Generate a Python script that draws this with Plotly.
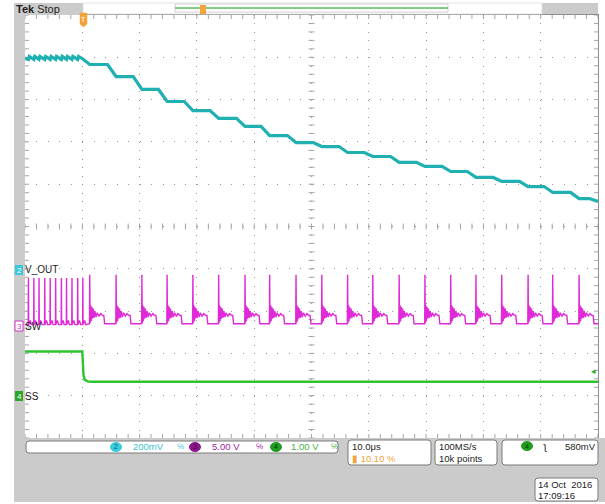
import plotly.graph_objects as go

# ---------------- data ----------------
T_RANGE = [-10.1, 89.9]          # us, 10 us/div, trigger at 10.10 %
CH2_SCALE, CH2_POS = 0.2, -1.0   # V/div, position (div)  V_OUT
CH3_SCALE, CH3_POS = 5.0, -2.34  # SW
CH4_SCALE, CH4_POS = 1.0, -4.0   # SS
TRIG_LEVEL = 0.58                # V on ch4

vout_t = [-10.1, -9.5, -9.35, -8.55, -8.4, -7.65, -7.5, -6.65, -6.5, -5.7, -5.55,
          -4.75, -4.6, -3.75, -3.6, -2.85, -2.7, -1.9, -1.75, -0.9, -0.75, 0.0,
          1.2, 4.3, 5.8, 8.8, 10.3, 13.2, 14.7, 17.7, 19.2, 22.2, 23.7,
          26.8, 28.3, 31.1, 32.6, 35.7, 37.2, 40.2, 41.7, 44.7, 46.2, 49.1, 50.6,
          53.7, 55.2, 58.2, 59.7, 62.7, 64.2, 67.1, 68.6, 71.6, 73.1, 76.2, 77.7,
          80.5, 82.0, 85.1, 86.6, 88.4, 89.9]
vout_v = [0.995, 0.990, 1.004, 0.990, 1.004, 0.990, 1.004, 0.990, 1.004, 0.990, 1.004,
          0.990, 1.004, 0.990, 1.004, 0.990, 1.004, 0.990, 1.004, 0.990, 1.004, 0.992,
          0.966, 0.966, 0.909, 0.909, 0.848, 0.848, 0.791, 0.791,
          0.748, 0.748, 0.711, 0.711, 0.673, 0.673, 0.630, 0.630, 0.597, 0.597,
          0.578, 0.578, 0.550, 0.550, 0.531, 0.531, 0.503, 0.503, 0.484, 0.484,
          0.460, 0.460, 0.432, 0.432, 0.413, 0.413, 0.389, 0.389, 0.361, 0.361,
          0.332, 0.332, 0.318]

sw_fast_t = [-9.5, -8.55, -7.65, -6.65, -5.7, -4.75, -3.75, -2.85, -1.9, -0.9, 0.0]
sw_fast_dt = [-0.04, 0.0, 0.04, 0.3, 0.5]
sw_fast_v = [0.1, 5.6, 0.1, 0.6, 0.1]

sw_pulse_t = [1.2, 5.8, 10.3, 14.7, 19.2, 23.7, 28.3, 32.6, 37.2, 41.7, 46.2, 50.6,
              55.2, 59.7, 64.2, 68.6, 73.1, 77.7, 82.0, 86.6]
sw_pulse_dt = [-0.05, 0.0, 0.06, 0.15, 0.25, 0.35, 0.45, 0.6, 0.75, 0.9, 1.1, 1.3,
               1.6, 1.9, 2.2, 2.45, 2.6]
sw_pulse_v = [0.2, 6.0, 0.3, 2.4, 0.5, 2.2, 0.8, 2.0, 0.9, 1.7, 1.0, 1.5, 1.1, 1.4,
              1.2, 1.2, 0.2]

ss_t = [-10.1, -0.1, 0.0, 0.1, 0.3, 0.8, 1.5, 89.9]
ss_v = [1.045, 1.045, 0.80, 0.50, 0.38, 0.34, 0.33, 0.33]

# ---------------- assemble switching-node trace ----------------
sw_t, sw_v = [-10.1], [0.1]
for ts in sw_fast_t:
    for d, v in zip(sw_fast_dt, sw_fast_v):
        sw_t.append(ts + d); sw_v.append(v)
for ts in sw_pulse_t:
    for d, v in zip(sw_pulse_dt, sw_pulse_v):
        sw_t.append(ts + d); sw_v.append(v)
sw_t.append(89.9); sw_v.append(0.2)

# ---------------- geometry helpers ----------------
W, H = 605, 504
L, R, T, B = 25, 598, 15, 438
FONT = "Liberation Sans"


def P(x):
    return (x - L) / (R - L)


def Q(y):
    return (B - y) / (B - T)


shapes, annos = [], []


def rect(x0, y0, x1, y1, fill, line=None, lw=1.0, layer="above"):
    shapes.append(dict(type="rect", xref="paper", yref="paper",
                       x0=P(x0), x1=P(x1), y0=Q(y1), y1=Q(y0),
                       fillcolor=fill, layer=layer,
                       line=dict(color=line or "rgba(0,0,0,0)", width=lw if line else 0)))


def rrect(x0, y0, x1, y1, r, fill="white", line="#7a7a7a", lw=1.0):
    pts = (f"M{P(x0+r)},{Q(y0)} L{P(x1-r)},{Q(y0)} Q{P(x1)},{Q(y0)} {P(x1)},{Q(y0+r)} "
           f"L{P(x1)},{Q(y1-r)} Q{P(x1)},{Q(y1)} {P(x1-r)},{Q(y1)} "
           f"L{P(x0+r)},{Q(y1)} Q{P(x0)},{Q(y1)} {P(x0)},{Q(y1-r)} "
           f"L{P(x0)},{Q(y0+r)} Q{P(x0)},{Q(y0)} {P(x0+r)},{Q(y0)} Z")
    shapes.append(dict(type="path", xref="paper", yref="paper", path=pts,
                       fillcolor=fill, line=dict(color=line, width=lw), layer="above"))


def circ(cx, cy, rx, ry, fill):
    shapes.append(dict(type="circle", xref="paper", yref="paper",
                       x0=P(cx - rx), x1=P(cx + rx), y0=Q(cy + ry), y1=Q(cy - ry),
                       fillcolor=fill, line=dict(color=fill, width=1), layer="above"))


def txt(x, y, s, color="#222222", size=10, anchor="left"):
    annos.append(dict(x=P(x), y=Q(y), xref="paper", yref="paper", text=s,
                      showarrow=False, xanchor=anchor, yanchor="middle", borderpad=0,
                      font=dict(family=FONT, size=size, color=color)))


GRAY = "#cbcbcb"
# frame background pieces
rect(14, 3, 83, 15, GRAY)          # Tek Stop box
rect(14, 15, 25, 438, GRAY)        # left strip
rect(542, 3, 598, 14, GRAY)        # top right
rect(14, 438, 605, 502, GRAY)      # bottom panel
rect(83, 3, 542, 14, "white", line="#dcdcdc", lw=0.8)

txt(15, 9, "<b>Tek</b> Stop", "#222222", 11)

# record view
rect(175, 4, 448, 12, "rgba(0,0,0,0)", line="#c4c4c4", lw=0.8)
shapes.append(dict(type="line", xref="paper", yref="paper", x0=P(175), x1=P(448),
                   y0=Q(8), y1=Q(8), line=dict(color="#5cb85c", width=1.5), layer="above"))
rect(200, 5, 206, 14, "#f2a33a")

# trigger position marker
shapes.append(dict(type="path", xref="paper", yref="paper",
                   path=f"M{P(80)},{Q(13)} L{P(87)},{Q(13)} L{P(87)},{Q(24)} L{P(83.5)},{Q(27)} L{P(80)},{Q(24)} Z",
                   fillcolor="#f2a33a", line=dict(color="#f2a33a", width=0.5), layer="above"))
txt(83.5, 19.5, "T", "white", 7, "center")

# channel markers on the left
rect(15, 265, 23, 275, "#3cc8dc")
txt(19, 270, "2", "white", 8, "center")
txt(24, 269, "V_OUT", "#222222", 10)
rect(15, 321, 23, 331, "white", line="#d030c8", lw=1)
txt(19, 326, "3", "#d030c8", 8, "center")
txt(24, 326, "SW", "#222222", 10)
rect(15, 391, 23, 401, "#2aa82a")
txt(19, 396, "4", "white", 8, "center")
txt(24, 396, "SS", "#222222", 10)

# bottom readouts
rrect(26, 441, 338, 453, 3)
circ(116, 447, 5.5, 4.5, "#35cfe0")
txt(116, 447, "2", "#1a5a66", 7, "center")
txt(132, 447, "200mV", "#3cbfd0", 9.5)
txt(176, 447, "℅", "#3cbfd0", 8)
circ(195, 447, 5.5, 4.5, "#8e168e")
txt(195, 447, "3", "#3a0a3a", 7, "center")
txt(211, 447, "5.00 V", "#a4229e", 9.5)
txt(255, 447, "℅", "#a4229e", 8)
circ(276, 447, 5.5, 4.5, "#1f9e1f")
txt(276, 447, "4", "#0a3a0a", 7, "center")
txt(290, 447, "1.00 V", "#43b443", 9.5)
txt(330, 447, "℅", "#43b443", 8)

rrect(348, 440, 431, 465, 3)
txt(351, 446, "10.0μs", "#222222", 9.5)
txt(351, 458, "▮ 10.10 %", "#f2a33a", 9.5)

rrect(435, 440, 497, 465, 3)
txt(438, 446, "100MS/s", "#222222", 9.5)
txt(438, 458, "10k points", "#222222", 9.5)

rrect(502, 440, 598, 465, 3)
circ(527, 446, 5.5, 4.5, "#1f9e1f")
txt(527, 446, "4", "#0a3a0a", 7, "center")
txt(542, 446, "ʅ", "#222222", 10)
txt(597, 446, "580mV", "#222222", 9.5, "right")

rrect(535, 478, 598, 501, 3)
txt(537, 484, "14 Oct  2016", "#222222", 9.5)
txt(537, 495, "17:09:16", "#222222", 9.5)

# ---------------- graticule ticks (data coordinates) ----------------
DX = (T_RANGE[1] - T_RANGE[0]) / (R - L)   # us per px
DY = 10.0 / (B - T)                        # div per px
tick_path = []
for i in range(51):
    x = T_RANGE[0] + i * 2.0
    tick_path.append(f"M{x},{5} L{x},{5 - 4 * DY}")
    tick_path.append(f"M{x},{-5} L{x},{-5 + 4 * DY}")
    tick_path.append(f"M{x},{-3 * DY} L{x},{3 * DY}")
for j in range(51):
    y = -5 + j * 0.2
    tick_path.append(f"M{T_RANGE[0]},{y} L{T_RANGE[0] + 4 * DX},{y}")
    tick_path.append(f"M{T_RANGE[1]},{y} L{T_RANGE[1] - 4 * DX},{y}")
    xc = T_RANGE[0] + 50
    tick_path.append(f"M{xc - 3 * DX},{y} L{xc + 3 * DX},{y}")
shapes.append(dict(type="path", xref="x", yref="y", path=" ".join(tick_path),
                   line=dict(color="#a6a6a6", width=1), layer="below"))

# trigger level arrow
annos.append(dict(x=T_RANGE[1], y=TRIG_LEVEL, xref="x", yref="y4", text="◂",
                  showarrow=False, xanchor="right", yanchor="middle",
                  font=dict(family="DejaVu Sans", size=9, color="#2aa82a")))

# ---------------- figure ----------------
fig = go.Figure()
fig.add_trace(go.Scatter(x=vout_t, y=vout_v, yaxis="y2", mode="lines",
                         line=dict(color="#20b0b2", width=3.2), hoverinfo="skip"))
fig.add_trace(go.Scatter(x=sw_t, y=sw_v, yaxis="y3", mode="lines",
                         line=dict(color="#e02ad8", width=1.4), hoverinfo="skip"))
fig.add_trace(go.Scatter(x=ss_t, y=ss_v, yaxis="y4", mode="lines",
                         line=dict(color="#2ec42e", width=2.4), hoverinfo="skip"))


def yr(scale, pos):
    return [(-5 - pos) * scale, (5 - pos) * scale]


fig.update_layout(
    width=W, height=H, showlegend=False,
    paper_bgcolor="white", plot_bgcolor="white",
    margin=dict(l=L, r=W - R, t=T, b=H - B, pad=0),
    xaxis=dict(range=T_RANGE, showticklabels=False, ticks="", zeroline=False,
               showgrid=True, tick0=T_RANGE[0], dtick=10, gridcolor="#9a9a9a",
               gridwidth=1, griddash="1px,7.46px",
               showline=True, mirror=True, linecolor="#8c8c8c", linewidth=1),
    yaxis=dict(range=[-5, 5], showticklabels=False, ticks="", zeroline=False,
               showgrid=True, tick0=-5, dtick=1, gridcolor="#9a9a9a",
               gridwidth=1, griddash="1px,10.46px",
               showline=True, mirror=True, linecolor="#8c8c8c", linewidth=1),
    yaxis2=dict(range=yr(CH2_SCALE, CH2_POS), overlaying="y", visible=False),
    yaxis3=dict(range=yr(CH3_SCALE, CH3_POS), overlaying="y", visible=False),
    yaxis4=dict(range=yr(CH4_SCALE, CH4_POS), overlaying="y", visible=False),
    shapes=shapes, annotations=annos,
)

fig.write_html("out.html", config={"displayModeBar": False},
               post_script="document.body.style.margin='0';")
